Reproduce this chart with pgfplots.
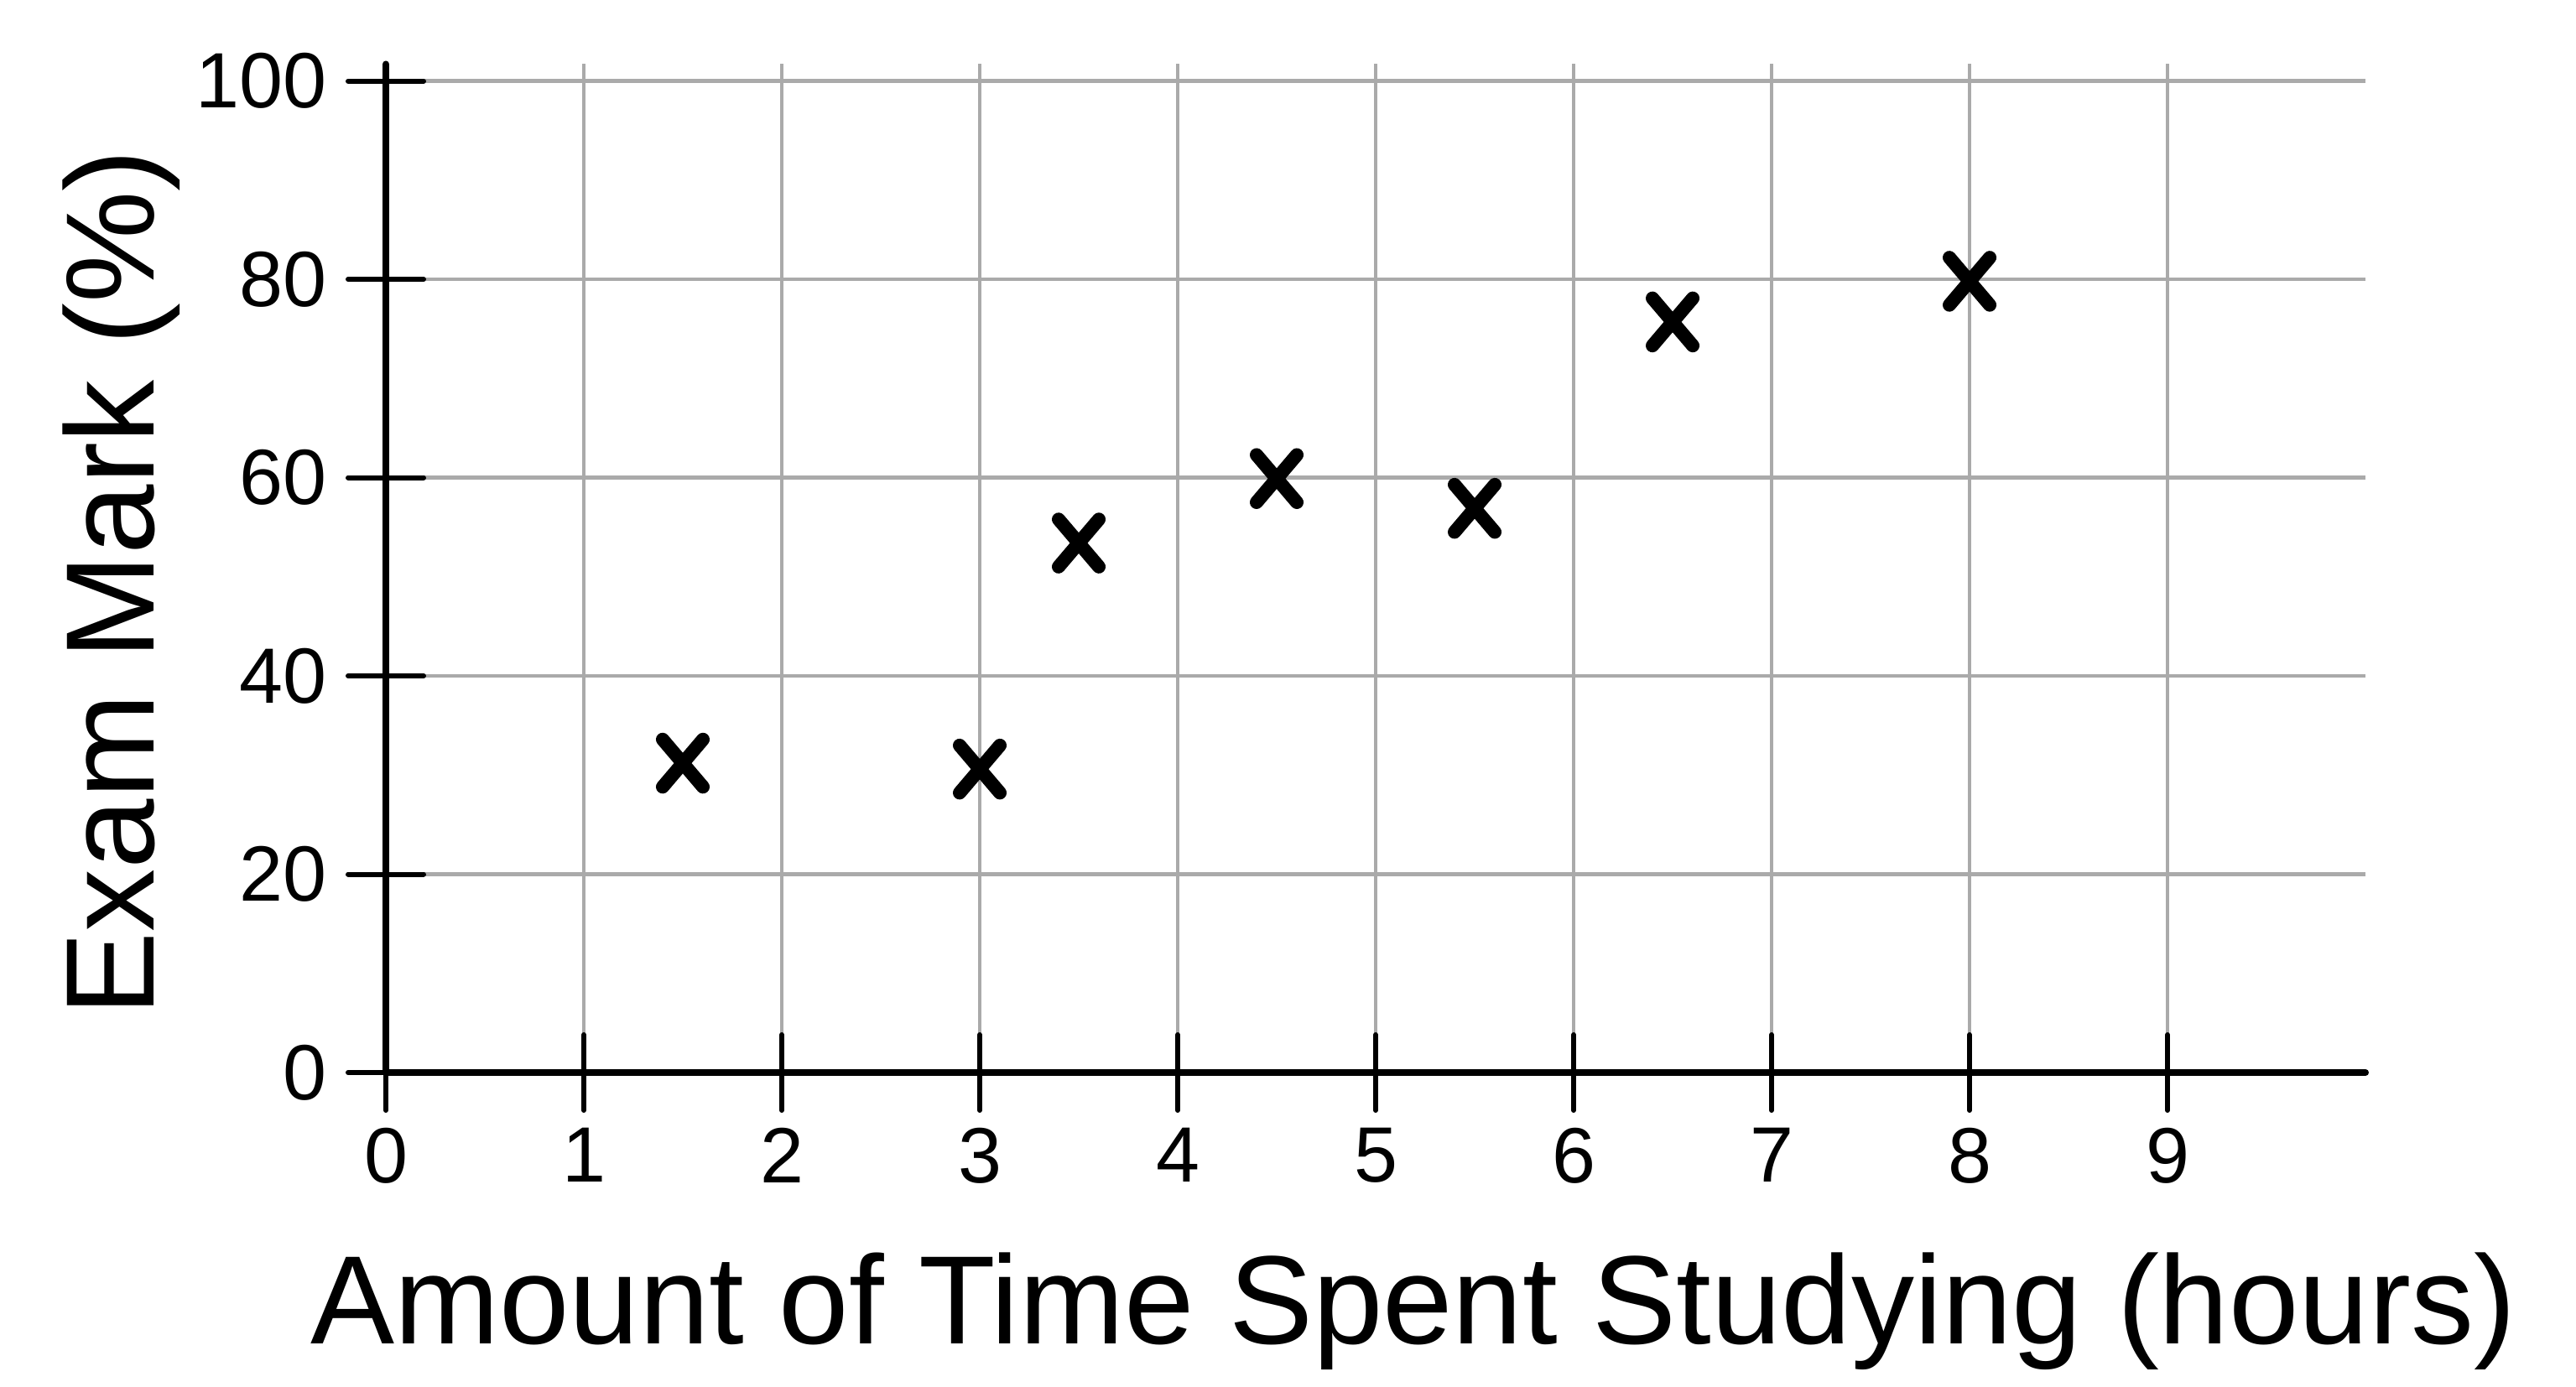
\documentclass[border=0pt]{standalone}
\usepackage{pgfplots}
\pgfplotsset{compat=1.18}
\usepackage{fontspec}
\setmainfont{Liberation Sans}
\definecolor{gridgray}{HTML}{AAAAAA}
\begin{document}
\begin{tikzpicture}
\begin{axis}[
  scale only axis,
  width=236pt, height=120.25pt,
  xmin=0, xmax=10, ymin=0, ymax=101.7,
  axis lines=left,
  axis line style={-, line width=0.8pt, line cap=round, black},
  xtick={0,1,...,9}, ytick={0,20,...,100},
  tick align=center,
  major tick length=9pt,
  tick style={line width=0.6pt, black, line cap=round},
  grid=major,
  grid style={line width=0.43pt, color=gridgray},
  tick label style={font=\fontsize{9.35}{10}\selectfont},
  xticklabel style={yshift=1.4pt},
  yticklabel style={xshift=1pt},
  /pgf/number format/assume math mode=true,
  xlabel={Amount of Time Spent Studying (hours)},
  ylabel={Exam Mark (\%)},
  xlabel style={at={(axis description cs:0.519,-0.2694)}, anchor=base, font=\fontsize{15}{18}\selectfont},
  ylabel style={at={(axis description cs:-0.117,0.486)}, anchor=base, rotate=0, font=\fontsize{15}{18}\selectfont},
]
\addplot[only marks, mark=x, mark size=4pt, line width=1.6pt,
  mark options={xscale=0.85, line cap=round, black}]
  coordinates {(1.5,31.2) (3,30.6) (3.5,53.4) (4.5,59.9) (5.5,56.9) (6.5,75.7) (8,79.8)};
\end{axis}
\pgfresetboundingbox
\path[use as bounding box] (-46pt,-37.5pt) rectangle (261.1pt,127.9pt);
\end{tikzpicture}
\end{document}
